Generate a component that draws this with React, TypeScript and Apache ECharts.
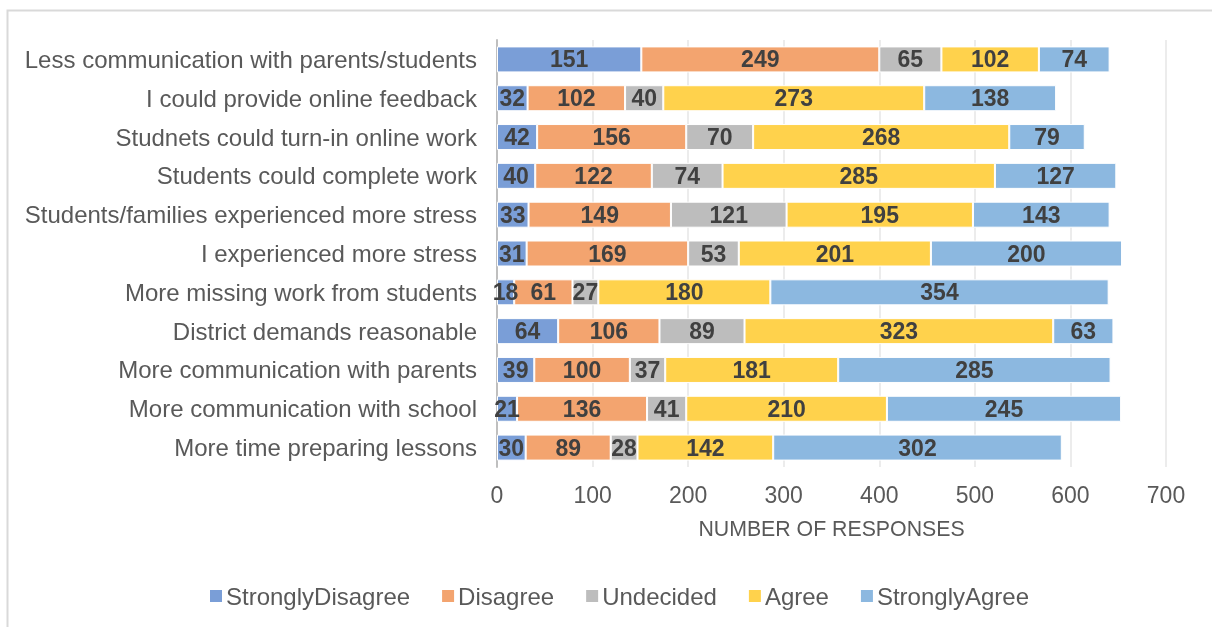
import React, { useEffect, useRef } from "react";
import * as echarts from "echarts";

const categories = [
  "Less communication with parents/students",
  "I could provide online feedback",
  "Studnets could turn-in online work",
  "Students could complete work",
  "Students/families experienced more stress",
  "I experienced more stress",
  "More missing work from students",
  "District demands reasonable",
  "More communication with parents",
  "More communication with school",
  "More time preparing lessons",
];

const stronglyDisagree = [151, 32, 42, 40, 33, 31, 18, 64, 39, 21, 30];
const disagree = [249, 102, 156, 122, 149, 169, 61, 106, 100, 136, 89];
const undecided = [65, 40, 70, 74, 121, 53, 27, 89, 37, 41, 28];
const agree = [102, 273, 268, 285, 195, 201, 180, 323, 181, 210, 142];
const stronglyAgree = [74, 138, 79, 127, 143, 200, 354, 63, 285, 245, 302];

const seriesNames = ["StronglyDisagree", "Disagree", "Undecided", "Agree", "StronglyAgree"];
const seriesData = [stronglyDisagree, disagree, undecided, agree, stronglyAgree];
const seriesColors = ["#7A9ED7", "#F3A46F", "#BDBDBD", "#FFD24C", "#8CB8E0"];
const xTicks = [0, 100, 200, 300, 400, 500, 600, 700];

const FONT = "'Liberation Sans', Arial, sans-serif";

export default function App() {
  const ref = useRef<HTMLDivElement>(null);
  useEffect(() => {
    if (!ref.current) return;
    const chart = echarts.init(ref.current, null, { renderer: "svg" });
    chart.setOption({
      animation: false,
      textStyle: { fontFamily: FONT },
      graphic: [
        {
          type: "rect",
          shape: { x: 7.5, y: 10.5, width: 1220, height: 640 },
          style: { fill: "none", stroke: "#D9D9D9", lineWidth: 2 },
          silent: true,
        },
      ],
      legend: {
        top: 579,
        left: 203,
        itemWidth: 14,
        itemHeight: 14,
        itemGap: 30,
        icon: "rect",
        textStyle: { fontSize: 24, color: "#595959", fontFamily: FONT, padding: [0, 0, 0, -2] },
        data: seriesNames,
      },
      grid: { left: 497, right: 46, top: 40, height: 427, containLabel: false },
      xAxis: {
        type: "value",
        min: xTicks[0],
        max: xTicks[xTicks.length - 1],
        interval: 100,
        name: "NUMBER OF RESPONSES",
        nameLocation: "middle",
        nameGap: 51,
        nameTextStyle: { fontSize: 21.3, color: "#595959", fontFamily: FONT },
        axisLine: { show: false },
        axisTick: { show: false },
        axisLabel: { fontSize: 23, color: "#595959", margin: 16, fontFamily: FONT },
        splitLine: { show: true, lineStyle: { color: "#E6E6E6", width: 1.5 } },
      },
      yAxis: {
        type: "category",
        data: categories,
        inverse: true,
        axisLine: { show: true, lineStyle: { color: "#BFBFBF", width: 2 } },
        axisTick: { show: false },
        axisLabel: { fontSize: 24, color: "#595959", margin: 20, fontFamily: FONT },
      },
      series: seriesNames.map((name, i) => ({
        name,
        type: "bar",
        stack: "total",
        data: seriesData[i],
        barWidth: 26,
        itemStyle: { color: seriesColors[i], borderColor: "#FFFFFF", borderWidth: 1 },
        label: {
          show: true,
          position: "inside",
          fontSize: 23,
          fontWeight: "bold",
          color: "#404040",
          fontFamily: FONT,
        },
      })),
    });
    return () => chart.dispose();
  }, []);
  return (
    <div
      ref={ref}
      style={{ position: "fixed", left: 0, top: 0, width: 1212, height: 627 }}
    />
  );
}
